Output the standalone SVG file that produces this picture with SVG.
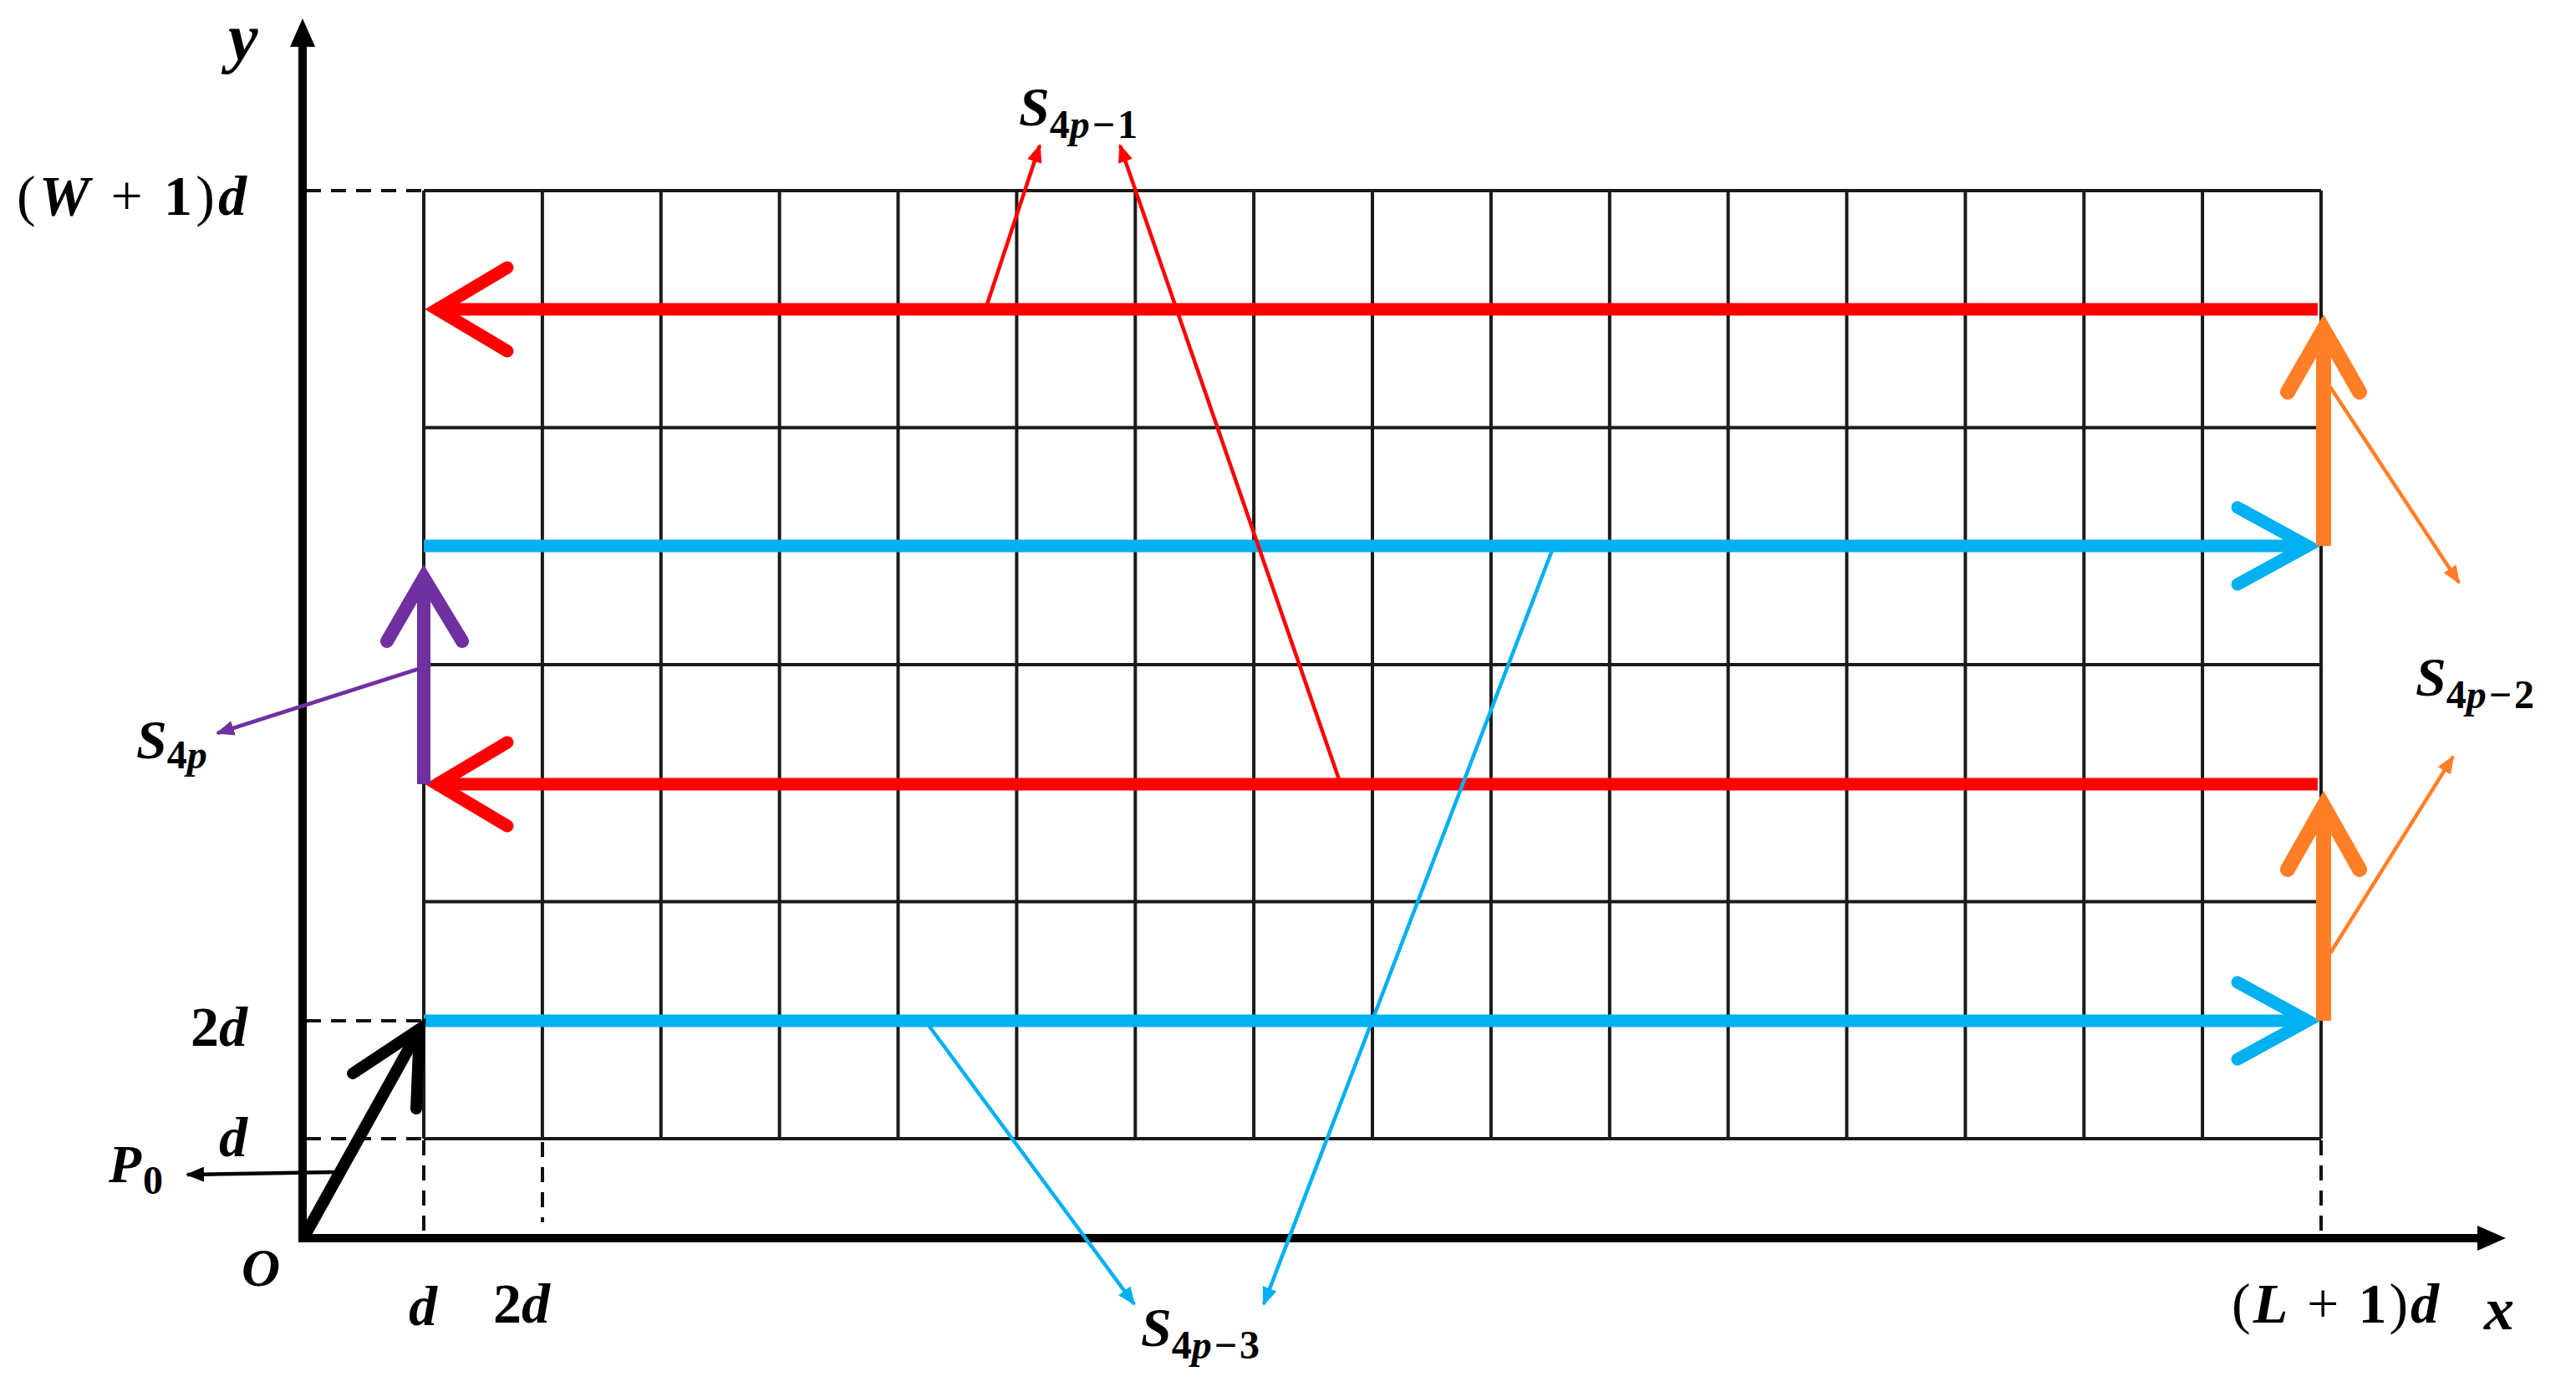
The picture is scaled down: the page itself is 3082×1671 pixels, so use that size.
<svg xmlns="http://www.w3.org/2000/svg" width="3082" height="1671" viewBox="0 0 3082 1671">
<style>
.grid{stroke:#1a1a1a;stroke-width:4;fill:none}
.dash{stroke:#111;stroke-width:4;stroke-dasharray:18 12;fill:none}
.axis{stroke:#000;stroke-width:10;fill:none}
.thick{fill:none;stroke-width:15;stroke-linecap:butt}
.head{fill:none;stroke-width:15;stroke-linecap:round;stroke-linejoin:miter;stroke-miterlimit:10}
.thin{fill:none;stroke-width:4.5}
.red{stroke:#FF0000}.blue{stroke:#00B0F0}.orange{stroke:#FF7F27}.purple{stroke:#7030A0}.black{stroke:#000}
text{font-family:"Liberation Serif","Times New Roman",serif;fill:#000;font-weight:bold}
.v{font-style:italic;font-weight:bold}
.n{font-style:normal;font-weight:bold}
.op{font-style:normal;font-weight:normal}
</style>
<defs>
<marker id="mRed" viewBox="0 0 22 18" refX="20" refY="9" markerWidth="22" markerHeight="18" markerUnits="userSpaceOnUse" orient="auto"><path d="M0,0 L22,9 L0,18 Z" fill="#FF0000"/></marker>
<marker id="mBlue" viewBox="0 0 22 18" refX="20" refY="9" markerWidth="22" markerHeight="18" markerUnits="userSpaceOnUse" orient="auto"><path d="M0,0 L22,9 L0,18 Z" fill="#00B0F0"/></marker>
<marker id="mOrange" viewBox="0 0 22 18" refX="20" refY="9" markerWidth="22" markerHeight="18" markerUnits="userSpaceOnUse" orient="auto"><path d="M0,0 L22,9 L0,18 Z" fill="#FF7F27"/></marker>
<marker id="mPurple" viewBox="0 0 22 18" refX="20" refY="9" markerWidth="22" markerHeight="18" markerUnits="userSpaceOnUse" orient="auto"><path d="M0,0 L22,9 L0,18 Z" fill="#7030A0"/></marker>
<marker id="mBlack" viewBox="0 0 22 18" refX="20" refY="9" markerWidth="22" markerHeight="18" markerUnits="userSpaceOnUse" orient="auto"><path d="M0,0 L22,9 L0,18 Z" fill="#000"/></marker>
</defs>
<rect width="3082" height="1671" fill="#fff"/>

<g id="grid" class="grid">
<path d="M507,228V1362M648.9,228V1362M790.8,228V1362M932.6,228V1362M1074.5,228V1362M1216.4,228V1362M1358.3,228V1362M1500.1,228V1362M1642,228V1362M1783.9,228V1362M1925.8,228V1362M2067.6,228V1362M2209.5,228V1362M2351.4,228V1362M2493.3,228V1362M2635.1,228V1362M2777,228V1362"/>
<path d="M507,228H2777M507,511.5H2777M507,795H2777M507,1078.5H2777M507,1362H2777"/>
</g>

<g id="guides" class="dash">
<path d="M366,228H505"/>
<path d="M366,1221H505"/>
<path d="M366,1362H505"/>
<path d="M507,1364V1478"/>
<path d="M649,1366V1462"/>
<path d="M2777,1364V1476"/>
</g>

<g id="axes">
<path class="axis" d="M362,1481V50"/>
<polygon points="362,22 347,56 377,56" fill="#000"/>
<path class="axis" d="M357,1481H2968"/>
<polygon points="2998,1481 2964,1466 2964,1496" fill="#000"/>
</g>

<g id="connectors">
<g id="path-red-top">
<path class="thick red" d="M2773,370H520"/>
<polyline class="head red" points="607,320 523,370 607,420"/>
</g>
<g id="path-blue-upper">
<path class="thick blue" d="M507,653H2758"/>
<polyline class="head blue" points="2677,607 2761,653 2677,699"/>
</g>
<g id="path-red-lower">
<path class="thick red" d="M2773,938H520"/>
<polyline class="head red" points="607,888 523,938 607,988"/>
</g>
<g id="path-blue-lower">
<path class="thick blue" d="M507,1221H2758"/>
<polyline class="head blue" points="2677,1175 2761,1221 2677,1267"/>
</g>
<g id="path-orange-upper">
<path class="thick orange" style="stroke-width:18" d="M2780,653V396"/>
<polyline class="head orange" style="stroke-width:18" points="2737,469 2780,394 2823,469"/>
</g>
<g id="path-orange-lower">
<path class="thick orange" style="stroke-width:18" d="M2780,1221V966"/>
<polyline class="head orange" style="stroke-width:18" points="2737,1040 2780,964 2823,1040"/>
</g>
<g id="path-purple">
<path class="thick purple" style="stroke-width:16" d="M507,938V694"/>
<polyline class="head purple" style="stroke-width:16" points="463,767 507,691 553,767"/>
</g>
<g id="path-start">
<path class="thick black" style="stroke-width:14" d="M364,1479L502,1231"/>
<polyline class="head black" style="stroke-width:14" points="422,1284 502,1231 498,1326"/>
</g>
<g id="callouts">
<path class="thin red" d="M1179,370L1244,174" marker-end="url(#mRed)"/>
<path class="thin red" d="M1604,938L1340,174" marker-end="url(#mRed)"/>
<path class="thin blue" d="M1107,1221L1357,1560" marker-end="url(#mBlue)"/>
<path class="thin blue" d="M1859,653L1512,1560" marker-end="url(#mBlue)"/>
<path class="thin orange" d="M2788,463L2942,697" marker-end="url(#mOrange)"/>
<path class="thin orange" d="M2788,1140L2935,905" marker-end="url(#mOrange)"/>
<path class="thin purple" d="M501,800L260,877" marker-end="url(#mPurple)"/>
<path class="thin black" d="M400,1402L224,1405" marker-end="url(#mBlack)"/>
</g>
</g>

<g id="label-y"><text x="273" y="72" font-size="80" class="v">y</text></g>
<g id="label-x"><text x="2972" y="1590" font-size="72" class="v">x</text></g>
<g id="label-W"><text x="20" y="257" font-size="68" textLength="275" lengthAdjust="spacing"><tspan class="op">(</tspan><tspan class="v">W</tspan><tspan class="op"> + </tspan><tspan class="n">1</tspan><tspan class="op">)</tspan><tspan class="v">d</tspan></text></g>
<g id="label-2d-y"><text x="296" y="1251" font-size="68" text-anchor="end"><tspan class="n">2</tspan><tspan class="v">d</tspan></text></g>
<g id="label-d-y"><text x="296" y="1383" font-size="68" text-anchor="end" class="v">d</text></g>
<g id="label-O"><text x="289" y="1538" font-size="64" class="v">O</text></g>
<g id="label-d-x"><text x="489" y="1585" font-size="68" class="v">d</text></g>
<g id="label-2d-x"><text x="590" y="1582" font-size="68"><tspan class="n">2</tspan><tspan class="v">d</tspan></text></g>
<g id="label-L"><text x="2670" y="1582" font-size="68" textLength="248" lengthAdjust="spacing"><tspan class="op">(</tspan><tspan class="v">L</tspan><tspan class="op"> + </tspan><tspan class="n">1</tspan><tspan class="op">)</tspan><tspan class="v">d</tspan></text></g>
<g id="label-P0"><text x="130" y="1414" font-size="64"><tspan class="v">P</tspan><tspan class="n" font-size="48" dy="14" dx="2">0</tspan></text></g>
<g id="label-S4p-1"><text x="1219" y="150" font-size="66"><tspan class="v">S</tspan><tspan dy="15" font-size="48"><tspan class="n">4</tspan><tspan class="v">p</tspan><tspan class="n" dx="3">−</tspan><tspan class="n" dx="3">1</tspan></tspan></text></g>
<g id="label-S4p-3"><text x="1365" y="1610" font-size="66"><tspan class="v">S</tspan><tspan dy="15" font-size="48"><tspan class="n">4</tspan><tspan class="v">p</tspan><tspan class="n" dx="3">−</tspan><tspan class="n" dx="3">3</tspan></tspan></text></g>
<g id="label-S4p-2"><text x="2890" y="832" font-size="66"><tspan class="v">S</tspan><tspan dy="15" font-size="48"><tspan class="n">4</tspan><tspan class="v">p</tspan><tspan class="n" dx="3">−</tspan><tspan class="n" dx="3">2</tspan></tspan></text></g>
<g id="label-S4p"><text x="163" y="907" font-size="66"><tspan class="v">S</tspan><tspan dy="12" font-size="48"><tspan class="n">4</tspan><tspan class="v">p</tspan></tspan></text></g>
</svg>
